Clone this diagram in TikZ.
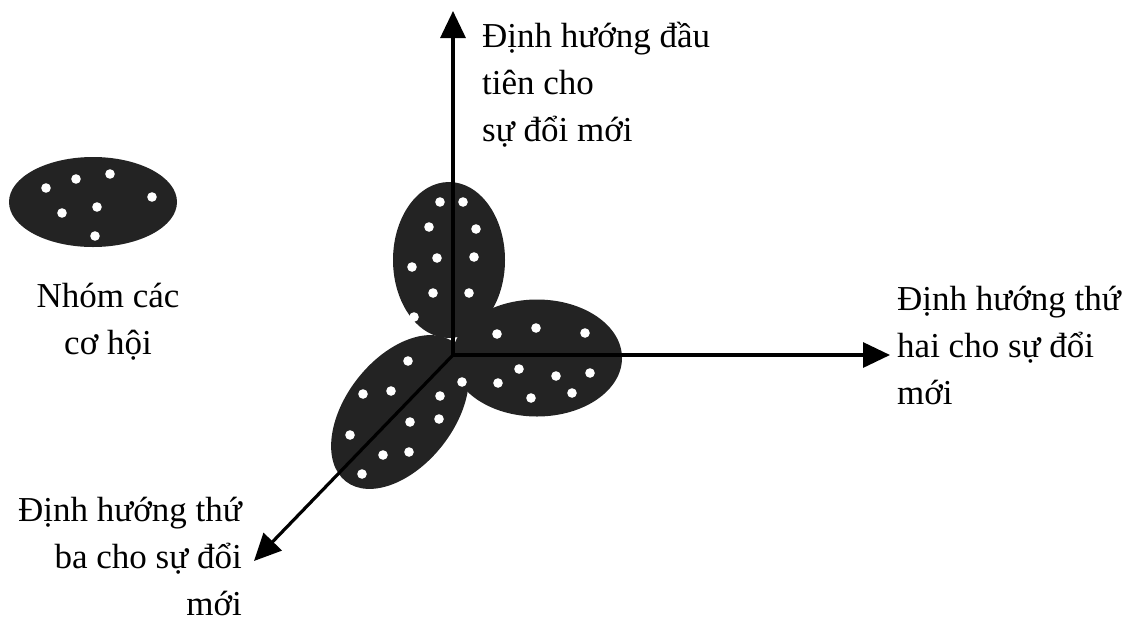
\documentclass[tikz,border=0pt]{standalone}
\usepackage{fontspec}
\setmainfont{Liberation Serif}
\usetikzlibrary{arrows.meta,shapes.geometric}
\definecolor{blobgray}{HTML}{232323}
\begin{document}
\begin{tikzpicture}[x=1pt,y=-1pt,
  blob/.style={ellipse, fill=blobgray, draw=none, inner sep=0pt, outer sep=0pt},
  hole/.style={fill=white},
  axis/.style={line width=3.2pt, -{Triangle[length=27pt,width=25pt]}},
  lbl/.style={font=\fontsize{35}{47}\selectfont, inner sep=0pt}]
\useasboundingbox (0,0) rectangle (1131,622);
% clusters
\node[blob, minimum width=168pt, minimum height=90pt] (group) at (93,202) {};
\node[blob, minimum width=112pt, minimum height=156pt] (upblob) at (449,260) {};
\node[blob, minimum width=170pt, minimum height=117pt] (rightblob) at (537,358) {};
\node[blob, minimum width=176pt, minimum height=108pt, rotate=52] (lowblob) at (400,412) {};
% dots
\foreach \p in {(46,188),(76,179),(110,174),(152,197),(97,207),(62,213),(95,236),
  (440,202),(463,202),(429,227),(476,229),(437,258),(474,257),(412,267),(433,293),(469,293),(414,317),
  (497,334),(536,328),(585,333),(519,369),(556,376),(590,373),(498,383),(531,398),(572,393),(462,382),
  (408,361),(363,394),(391,391),(440,396),(410,422),(439,419),(350,435),(383,455),(409,452),(362,474)}
  \fill[hole] \p circle[radius=4.8pt];
% axes
\coordinate (O) at (453,355);
\coordinate (T1) at (453,11);
\coordinate (T2) at (890,355);
\coordinate (T3) at (254,561);
\draw[axis] (O) -- (T1);
\draw[axis] (O) -- (T2);
\draw[axis] (O) -- (T3);
% labels (base anchor = baseline of last line)
\node[lbl, anchor=base west, align=left] (l1) at (482,141) {Định hướng đầu\\tiên cho\\sự đổi mới};
\node[lbl, anchor=base west, align=left] (l2) at (897,404) {Định hướng thứ\\hai cho sự đổi\\mới};
\node[lbl, anchor=base east, align=right] (l3) at (242,615) {Định hướng thứ\\ba cho sự đổi\\mới};
\node[lbl, anchor=base, align=center] (l0) at (108,354) {Nhóm các\\cơ hội};
\end{tikzpicture}
\end{document}
